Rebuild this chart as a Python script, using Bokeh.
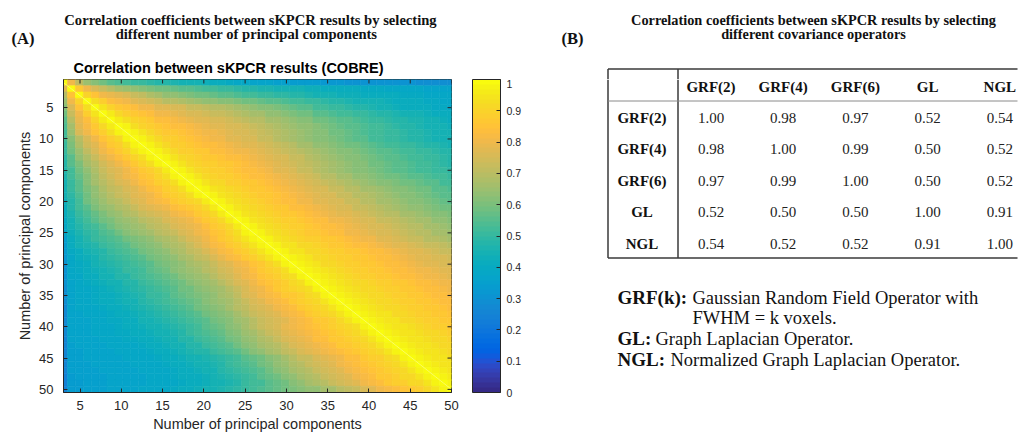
from bokeh.plotting import figure
from bokeh.layouts import row, column
from bokeh.models import (ColumnDataSource, LinearColorMapper, ColorBar, FixedTicker, Range1d)
from bokeh.core.properties import value
from bokeh.embed import file_html
from bokeh.resources import INLINE

# ---------------- DATA ----------------
# Panel A: correlation matrix (x100), row by row.
# PC_LOWER[i]: columns left of the diagonal, PC_UPPER[i]: columns right of the diagonal.
PC_LOWER = [
    "",
    "78",
    "70 85",
    "65 80 90",
    "61 76 85 93",
    "58 72 81 88 95",
    "56 69 79 84 90 96",
    "54 67 77 82 87 92 96",
    "53 65 75 80 85 89 93 97",
    "52 62 70 76 80 85 88 92 97",
    "51 60 68 74 78 82 86 89 93 97",
    "50 58 65 71 76 80 84 87 90 94 97",
    "49 56 63 68 73 77 80 84 87 90 93 97",
    "48 55 60 66 70 74 78 81 84 87 90 93 97",
    "47 53 58 64 68 72 75 78 81 84 86 89 92 96",
    "46 52 57 62 67 71 74 77 80 82 85 87 90 93 97",
    "45 51 56 61 66 69 72 75 78 80 83 85 88 90 93 97",
    "44 50 55 60 64 68 71 73 76 78 81 83 85 88 90 93 97",
    "44 49 54 59 63 66 69 72 74 77 79 81 83 86 88 90 93 97",
    "43 48 53 58 62 65 68 70 73 76 78 80 82 84 86 88 90 92 96",
    "42 47 52 56 60 63 65 68 70 73 75 77 79 81 83 85 87 89 92 96",
    "41 46 50 54 57 60 63 65 68 70 72 74 76 78 80 82 84 86 89 92 96",
    "40 45 49 52 55 58 60 63 65 67 69 71 73 75 77 79 81 83 86 88 91 96",
    "39 44 47 50 53 56 58 61 63 65 67 69 71 73 75 77 79 81 84 86 88 91 96",
    "38 43 46 49 51 54 56 59 61 63 65 67 69 71 73 75 77 80 82 85 87 90 93 97",
    "35 42 45 47 50 52 54 56 58 60 62 64 66 68 70 72 75 78 81 84 86 88 91 94 97",
    "34 41 44 46 48 50 52 54 56 58 60 62 64 66 68 70 73 76 79 82 84 86 88 91 94 97",
    "33 40 42 44 46 48 50 52 54 56 58 60 62 64 66 68 71 73 76 79 82 84 86 88 91 94 97",
    "32 39 41 43 45 47 49 51 52 54 56 58 60 62 64 66 68 71 73 76 79 82 84 86 88 91 94 97",
    "31 38 40 42 44 46 47 49 51 52 54 56 58 60 62 64 66 68 70 72 75 77 80 82 85 87 90 93 97",
    "31 38 40 41 43 45 46 48 50 51 53 55 57 59 61 63 65 67 69 71 74 76 79 81 84 86 88 90 93 97",
    "30 38 39 41 42 44 45 47 48 50 52 54 55 57 59 61 63 65 67 69 72 74 77 80 82 85 87 89 91 93 97",
    "30 37 39 40 41 43 44 45 47 48 50 52 54 55 57 59 61 63 65 67 69 72 75 78 81 83 85 87 89 91 93 97",
    "29 37 38 39 40 42 43 44 46 47 49 51 52 54 56 58 59 61 63 65 67 70 73 76 79 81 84 86 88 90 91 93 97",
    "29 37 38 39 40 41 42 43 45 46 48 50 51 53 55 57 58 60 62 64 66 68 71 75 78 80 82 84 86 87 89 91 93 97",
    "29 37 38 39 40 41 42 43 44 45 47 49 50 52 54 56 57 59 61 63 65 67 70 73 76 78 80 82 84 86 88 90 92 94 97",
    "28 37 38 38 39 40 41 42 43 44 46 47 49 51 52 54 56 58 60 62 64 66 69 71 74 76 78 80 82 84 86 88 90 92 94 97",
    "28 36 37 38 39 39 40 41 42 43 45 46 47 49 51 52 54 56 58 60 62 64 67 69 72 74 76 78 80 82 84 86 88 90 91 94 97",
    "28 36 37 37 38 39 40 40 41 42 44 45 46 47 49 50 52 54 56 58 60 62 65 67 70 72 74 76 78 80 82 84 86 87 89 91 94 97",
    "27 36 37 37 38 39 39 40 41 42 43 44 45 46 47 49 51 53 55 57 59 62 64 67 70 72 74 76 79 81 82 84 85 87 88 90 91 93 97",
    "27 36 36 37 38 38 39 40 40 41 42 43 44 45 46 48 50 52 54 55 57 60 62 65 67 70 72 74 77 79 81 82 84 85 87 88 90 91 94 97",
    "26 36 36 37 37 38 38 39 40 40 41 42 43 44 45 47 48 50 52 54 56 58 60 63 65 68 70 72 75 77 79 81 83 84 86 87 89 90 91 94 97",
    "26 35 36 36 37 37 38 38 39 39 40 41 42 43 44 45 47 48 50 52 54 56 58 61 63 66 68 70 73 75 77 79 81 82 84 86 87 89 90 92 94 97",
    "26 35 35 36 36 37 37 38 38 39 39 40 41 42 43 44 46 47 48 50 52 54 56 59 61 64 66 68 71 73 75 77 79 80 82 84 85 87 88 90 92 94 97",
    "25 35 35 36 36 36 37 37 38 38 39 39 40 41 42 43 44 45 46 47 49 51 53 55 57 59 62 64 67 70 72 73 75 77 79 81 83 84 86 88 89 91 93 97",
    "25 35 35 35 36 36 36 37 37 38 38 39 39 40 41 42 43 44 45 46 48 50 52 54 56 58 60 63 65 68 70 72 74 76 78 80 82 83 85 87 88 90 92 94 97",
    "25 35 35 35 35 36 36 36 37 37 38 38 39 39 40 41 42 43 44 45 47 49 50 52 54 56 58 61 63 66 68 70 72 74 76 78 80 82 84 85 87 89 90 92 94 97",
    "24 34 35 35 35 35 36 36 36 37 37 38 38 39 40 41 41 42 43 44 46 47 49 51 53 55 57 59 61 64 66 68 70 72 74 76 78 80 82 84 86 87 89 91 92 94 97",
    "24 34 34 35 35 35 36 36 36 37 37 38 38 39 39 40 41 42 43 44 45 46 48 50 52 53 55 57 59 62 64 66 68 70 72 74 76 78 80 82 84 86 88 89 91 92 94 97",
    "24 34 34 35 35 35 36 36 37 37 38 38 39 39 40 41 42 43 44 45 46 48 49 51 52 54 55 57 59 60 62 63 64 66 67 69 71 73 76 78 80 82 84 85 87 89 91 94 97",
]
PC_UPPER = [
    "80 71 65 61 58 56 54 52 51 50 49 48 47 46 45 45 44 43 42 41 40 39 38 37 36 36 35 35 34 34 33 33 32 32 32 31 31 31 31 30 30 30 30 30 29 29 29 29 29",
    "86 80 76 72 69 67 65 63 62 60 59 58 57 56 55 54 53 52 51 50 49 48 47 46 46 45 45 44 44 43 43 42 42 41 41 41 40 40 40 39 39 38 38 38 37 37 36 36",
    "90 85 81 79 77 75 73 71 68 66 64 63 61 60 59 58 57 56 55 54 53 52 51 50 49 49 48 47 46 45 45 44 43 43 43 42 42 42 41 41 40 40 40 39 39 38 38",
    "93 88 84 82 80 78 76 74 72 70 69 68 66 65 64 63 62 61 60 59 58 57 56 55 54 53 52 51 50 49 48 47 46 45 45 44 44 43 42 42 41 41 40 40 39 39",
    "95 90 87 85 83 81 80 78 77 76 75 73 72 71 70 69 68 66 65 64 62 61 60 58 57 56 55 53 52 51 50 49 48 47 46 45 44 43 42 42 41 41 40 40 39",
    "96 92 89 87 85 83 81 80 79 78 76 75 74 73 72 71 70 68 67 66 64 63 62 60 59 58 56 55 54 53 52 51 50 49 48 47 46 45 44 44 43 42 42 41",
    "96 93 90 88 86 84 83 82 80 79 78 77 76 75 74 73 71 70 69 67 66 65 63 62 61 59 58 57 56 55 54 53 51 50 49 48 47 46 46 45 44 43 42",
    "97 93 90 88 87 85 84 83 82 80 79 78 77 76 75 74 72 71 70 68 67 65 64 63 61 60 59 57 56 55 54 53 52 51 49 48 47 46 45 44 44 43",
    "97 94 91 89 87 86 85 84 82 81 80 79 77 76 75 74 72 71 69 68 66 65 63 62 61 59 58 57 56 54 53 52 51 50 49 48 47 46 45 44 44",
    "97 94 91 89 88 86 85 84 82 81 80 78 77 76 75 73 72 70 68 67 65 63 62 61 60 58 57 56 55 53 52 51 50 49 48 47 46 45 45 44",
    "97 94 91 89 88 87 85 84 83 82 80 79 78 77 75 74 72 71 69 67 66 64 63 62 60 59 58 57 55 54 53 52 51 50 49 48 47 46 45",
    "97 94 91 89 88 87 86 84 83 82 81 80 79 77 76 74 73 71 70 68 66 65 64 62 61 60 58 57 56 55 54 53 52 51 50 49 48 47",
    "97 94 92 90 88 87 86 85 84 83 82 80 79 78 76 75 73 72 70 68 67 65 64 62 61 60 58 57 56 55 54 53 52 51 50 49 48",
    "97 94 92 90 89 88 87 86 85 83 82 81 79 77 76 74 73 71 69 68 66 65 63 62 61 59 58 57 56 55 54 53 52 51 49 48",
    "97 94 92 90 89 88 87 85 84 83 82 80 78 77 75 73 72 70 68 67 65 64 62 61 60 59 57 56 55 54 53 52 51 50 49",
    "97 94 92 90 89 88 87 85 84 83 82 80 79 77 75 74 72 70 69 67 66 64 63 62 60 59 58 57 56 55 54 53 52 50",
    "97 95 92 91 89 88 87 86 85 83 82 80 79 77 76 74 72 71 69 68 66 65 64 62 61 60 59 58 57 56 55 53 52",
    "97 95 93 91 90 88 87 86 85 84 82 81 79 78 76 75 73 72 70 69 67 66 65 63 62 61 60 59 58 56 55 54",
    "97 95 93 91 90 89 87 86 85 83 82 80 79 77 76 75 73 72 70 69 68 66 65 64 62 61 60 59 57 56 55",
    "97 95 93 91 90 88 87 85 84 83 81 80 78 77 76 75 73 72 70 69 67 66 65 63 62 61 60 58 57 56",
    "97 95 93 91 90 89 87 86 84 83 82 80 79 77 76 75 73 72 71 69 68 66 65 64 63 61 60 59 58",
    "97 95 93 91 90 89 87 86 85 83 82 81 79 78 77 75 74 73 71 70 69 67 66 65 64 62 61 60",
    "97 95 93 91 90 89 88 86 85 84 83 81 80 79 77 76 75 73 72 71 69 68 67 66 64 63 62",
    "97 95 93 92 90 89 88 87 85 84 83 82 80 79 78 76 75 74 72 71 70 69 67 66 65 64",
    "97 95 93 91 90 88 87 86 85 84 83 81 80 79 78 76 75 74 72 71 70 69 67 66 65",
    "97 95 93 92 90 89 88 87 86 85 83 82 81 80 78 77 76 74 73 72 70 69 68 67",
    "97 95 94 92 91 90 88 87 86 85 84 83 82 81 79 78 77 76 74 73 72 71 69",
    "97 95 94 92 91 90 89 88 87 86 85 84 83 82 80 79 78 77 76 74 73 72",
    "97 96 94 92 91 90 89 88 87 86 85 84 83 82 81 79 78 77 76 75 74",
    "97 96 94 92 91 90 89 88 87 86 85 84 83 82 80 79 78 77 76 75",
    "97 96 94 93 91 90 89 88 87 86 85 84 83 82 81 80 79 78 77",
    "97 96 94 93 91 90 89 88 87 86 85 84 83 82 81 80 79 78",
    "97 96 94 93 92 91 90 89 88 87 86 85 84 83 82 81 80",
    "97 96 95 93 92 91 90 89 88 87 86 85 84 83 82 81",
    "97 96 95 93 92 91 90 89 88 87 86 85 84 83 82",
    "97 96 95 93 92 91 90 89 88 87 86 85 84 83",
    "97 96 95 93 92 91 90 89 88 87 86 85 84",
    "97 96 95 94 92 91 90 89 88 87 86 85",
    "97 96 95 94 92 91 90 89 88 87 86",
    "97 96 95 94 93 92 90 89 88 87",
    "97 96 95 94 93 92 91 90 89",
    "97 96 95 94 93 92 91 90",
    "97 96 95 94 93 92 91",
    "97 96 95 94 93 92",
    "97 96 95 94 93",
    "97 96 95 94",
    "97 96 95",
    "97 96",
    "97",
    "",
]
PC_TICKS = [5, 10, 15, 20, 25, 30, 35, 40, 45, 50]
CB_TICKS = [0, 0.1, 0.2, 0.3, 0.4, 0.5, 0.6, 0.7, 0.8, 0.9, 1]

# Panel B: table
OPERATORS = ["GRF(2)", "GRF(4)", "GRF(6)", "GL", "NGL"]
TABLE_VALUES = [
    [1.00, 0.98, 0.97, 0.52, 0.54],
    [0.98, 1.00, 0.99, 0.50, 0.52],
    [0.97, 0.99, 1.00, 0.50, 0.52],
    [0.52, 0.50, 0.50, 1.00, 0.91],
    [0.54, 0.52, 0.52, 0.91, 1.00],
]
LEGEND_TERMS = ["GRF(k):", "GL:", "NGL:"]
LEGEND_DEFS = ["Gaussian Random Field Operator with", "Graph Laplacian Operator.",
               "Normalized Graph Laplacian Operator."]
LEGEND_CONT = "FWHM = k voxels."

TITLE_A = ["Correlation coefficients between sKPCR results by selecting",
           "different number of principal components"]
TITLE_B = ["Correlation coefficients between sKPCR results by selecting",
           "different covariance operators"]
HEATMAP_TITLE = "Correlation between sKPCR results (COBRE)"
AXIS_LABEL = "Number of principal components"

# ---------------- STYLE ----------------
PARULA = [
    (0.2081, 0.1663, 0.5292), (0.2116, 0.1898, 0.5777), (0.2123, 0.2138, 0.6270), (0.2081, 0.2386, 0.6771),
    (0.1959, 0.2645, 0.7279), (0.1707, 0.2919, 0.7792), (0.1253, 0.3242, 0.8303), (0.0591, 0.3598, 0.8683),
    (0.0117, 0.3875, 0.8820), (0.0060, 0.4086, 0.8828), (0.0165, 0.4266, 0.8786), (0.0329, 0.4430, 0.8720),
    (0.0498, 0.4586, 0.8641), (0.0629, 0.4737, 0.8554), (0.0723, 0.4887, 0.8467), (0.0779, 0.5040, 0.8384),
    (0.0793, 0.5200, 0.8312), (0.0749, 0.5375, 0.8263), (0.0641, 0.5570, 0.8240), (0.0488, 0.5772, 0.8228),
    (0.0343, 0.5966, 0.8199), (0.0265, 0.6137, 0.8135), (0.0239, 0.6287, 0.8038), (0.0231, 0.6418, 0.7913),
    (0.0228, 0.6535, 0.7768), (0.0267, 0.6642, 0.7607), (0.0384, 0.6743, 0.7436), (0.0590, 0.6838, 0.7254),
    (0.0843, 0.6928, 0.7062), (0.1133, 0.7015, 0.6859), (0.1453, 0.7098, 0.6646), (0.1801, 0.7177, 0.6424),
    (0.2178, 0.7250, 0.6193), (0.2586, 0.7317, 0.5954), (0.3022, 0.7376, 0.5712), (0.3482, 0.7424, 0.5473),
    (0.3953, 0.7459, 0.5244), (0.4420, 0.7481, 0.5033), (0.4871, 0.7491, 0.4840), (0.5300, 0.7491, 0.4661),
    (0.5709, 0.7485, 0.4494), (0.6099, 0.7473, 0.4337), (0.6473, 0.7456, 0.4188), (0.6834, 0.7435, 0.4044),
    (0.7184, 0.7411, 0.3905), (0.7525, 0.7384, 0.3768), (0.7858, 0.7356, 0.3633), (0.8185, 0.7327, 0.3498),
    (0.8507, 0.7299, 0.3360), (0.8824, 0.7274, 0.3217), (0.9139, 0.7258, 0.3063), (0.9450, 0.7261, 0.2886),
    (0.9739, 0.7314, 0.2666), (0.9938, 0.7455, 0.2403), (0.9990, 0.7653, 0.2164), (0.9955, 0.7861, 0.1967),
    (0.9880, 0.8066, 0.1794), (0.9789, 0.8271, 0.1633), (0.9697, 0.8481, 0.1475), (0.9626, 0.8705, 0.1309),
    (0.9589, 0.8949, 0.1132), (0.9598, 0.9218, 0.0948), (0.9661, 0.9514, 0.0755), (0.9763, 0.9831, 0.0538),
]
PAL = ["#%02x%02x%02x" % tuple(int(round(c * 255)) for c in rgb) for rgb in PARULA]
AX = "#262626"
TXT = "#111111"
SANS = "Liberation Sans"
SERIF = "Liberation Serif"

# page geometry (pixels)
PAGE_W, PAGE_H = 1025, 436
HEAD_H = 79                       # header strip height == top of heatmap frame
FRAME_L, FRAME_W, FRAME_H = 63, 388, 313
A_W, C_W = 460, 80
ROW_H = PAGE_H - HEAD_H
BOT = ROW_H - FRAME_H

# ---------------- MATRIX ----------------
N = len(PC_LOWER)
corr = []
for i in range(N):
    lo = [int(v) for v in PC_LOWER[i].split()]
    up = [int(v) for v in PC_UPPER[i].split()]
    assert len(lo) == i and len(up) == N - 1 - i, (i + 1, len(lo), len(up))
    corr.append([v / 100 for v in lo] + [1.0] + [v / 100 for v in up])

X_FIRST, X_LAST = 3, 50          # imagesc x-extent of the columns
col_x = [X_FIRST + j * (X_LAST - X_FIRST) / (N - 1) for j in range(N)]
cell_w = (X_LAST - X_FIRST) / (N - 1)
xs, ys, vs = [], [], []
for i in range(N):
    for j in range(N):
        xs.append(col_x[j]); ys.append(i + 1); vs.append(corr[i][j])
src = ColumnDataSource(dict(x=xs, y=ys, v=vs))

mapper = LinearColorMapper(palette=PAL, low=0, high=1)

# ---------------- HEADER (titles) ----------------
hd = figure(width=PAGE_W, height=HEAD_H, x_range=Range1d(0, PAGE_W), y_range=Range1d(HEAD_H, 0),
            output_backend="svg", toolbar_location=None, tools="", min_border=0,
            x_axis_location=None, y_axis_location=None, outline_line_color=None)
hd.grid.visible = False
hd.text(x=[250, 246], y=[19.5, 33.5], text=TITLE_A, text_align="center", text_baseline="middle",
        text_font=value(SERIF), text_font_style="bold", text_font_size="14.6px", text_color=TXT)
hd.text(x=[813, 813], y=[19.5, 33.5], text=TITLE_B, text_align="center", text_baseline="middle",
        text_font=value(SERIF), text_font_style="bold", text_font_size="14.3px", text_color=TXT)
hd.text(x=[11, 561], y=[38, 38], text=["(A)", "(B)"], text_align="left", text_baseline="middle",
        text_font=value(SERIF), text_font_style="bold", text_font_size="16.5px", text_color=TXT)
hd.text(x=[228], y=[67.5], text=[HEATMAP_TITLE], text_align="center", text_baseline="middle",
        text_font=value(SANS), text_font_style="bold", text_font_size="14.5px", text_color="black")

# table geometry (page coordinates)
T_LEFT, T_RIGHT, T_TOP, T_HEAD, T_BOTTOM, T_DIV = 607.5, 1017, 68.5, 100.5, 257.5, 677.5
hd.segment(x0=[T_LEFT, T_LEFT, T_DIV], y0=[T_TOP, T_TOP, T_TOP],
           x1=[T_RIGHT, T_LEFT, T_DIV], y1=[T_TOP, HEAD_H, HEAD_H],
           line_color="#3a3a3a", line_width=1.5)

# ---------------- PANEL A ----------------
pA = figure(width=A_W, height=ROW_H, x_range=Range1d(3, 50), y_range=Range1d(50.5, 0.5),
            output_backend="svg", toolbar_location=None, tools="",
            min_border_left=FRAME_L, min_border_right=A_W - FRAME_L - FRAME_W, min_border_top=0,
            min_border_bottom=BOT)
pA.rect(x="x", y="y", width=cell_w, height=1, source=src,
        fill_color={"field": "v", "transform": mapper},
        line_color={"field": "v", "transform": mapper}, line_width=0.6)
pA.line(x=col_x, y=list(range(1, N + 1)), line_color="white", line_alpha=0.45, line_width=0.8)
pA.grid.visible = False
pA.outline_line_color = AX
pA.outline_line_width = 1

for ax in (pA.xaxis[0], pA.yaxis[0]):
    ax.ticker = FixedTicker(ticks=PC_TICKS)
    ax.axis_label = AXIS_LABEL
    ax.axis_label_text_font = SANS
    ax.axis_label_text_font_style = "normal"
    ax.axis_label_text_font_size = "14.5px"
    ax.axis_label_text_color = AX
    ax.major_label_text_font = SANS
    ax.major_label_text_font_size = "13px"
    ax.major_label_text_color = AX
    ax.major_tick_in = 4
    ax.major_tick_out = 0
    ax.minor_tick_line_color = None
    ax.axis_line_color = AX
    ax.major_tick_line_color = AX
pA.xaxis.major_label_standoff = 8
pA.xaxis.axis_label_standoff = 3
pA.yaxis.major_label_standoff = 10
pA.yaxis.axis_label_standoff = 3

# box ticks on the top and right sides (pointing inward)
tx = 4 * 47 / FRAME_W
ty = 4 * 50 / FRAME_H
pA.segment(x0=PC_TICKS, y0=[0.5] * len(PC_TICKS), x1=PC_TICKS, y1=[0.5 + ty] * len(PC_TICKS),
           line_color=AX, line_width=1)
pA.segment(x0=[50] * len(PC_TICKS), y0=PC_TICKS, x1=[50 - tx] * len(PC_TICKS), y1=PC_TICKS,
           line_color=AX, line_width=1)

# ---------------- COLORBAR ----------------
pC = figure(width=C_W, height=ROW_H, x_range=Range1d(0, 1), y_range=Range1d(0, 1),
            output_backend="svg", toolbar_location=None, tools="",
            min_border_left=0, min_border_right=0, min_border_top=0, min_border_bottom=BOT,
            x_axis_location=None, y_axis_location=None, outline_line_color=None)
pC.grid.visible = False
cb = ColorBar(color_mapper=mapper, location=(472 - A_W, 0), width=28, height=FRAME_H, padding=0,
              ticker=FixedTicker(ticks=CB_TICKS),
              major_label_overrides={t: ("%g" % t) for t in CB_TICKS},
              label_standoff=6, major_tick_in=4, major_tick_out=0, major_tick_line_color=AX,
              minor_tick_line_color=None, bar_line_color=AX, bar_line_width=1,
              major_label_text_font=SANS, major_label_text_font_size="10.5px",
              major_label_text_color=AX, background_fill_color=None, border_line_color=None)
pC.add_layout(cb, "center")

# ---------------- PANEL B ----------------
BX0 = A_W + C_W
pB = figure(width=PAGE_W - BX0, height=ROW_H, x_range=Range1d(BX0, PAGE_W),
            y_range=Range1d(HEAD_H + FRAME_H, HEAD_H),
            output_backend="svg", toolbar_location=None, tools="",
            min_border_left=0, min_border_right=0, min_border_top=0, min_border_bottom=BOT,
            x_axis_location=None, y_axis_location=None, outline_line_color=None)
pB.grid.visible = False

LBL_X = 641.5
COL0_X, COL_DX = 710.5, 72.2
HEAD_Y, ROW0_Y, ROW_DY = 86.7, 117.3, 31.5

pB.segment(x0=[T_LEFT, T_LEFT, T_DIV], y0=[T_BOTTOM, HEAD_H, HEAD_H],
           x1=[T_RIGHT, T_LEFT, T_DIV], y1=[T_BOTTOM, T_BOTTOM, T_BOTTOM],
           line_color="#3a3a3a", line_width=1.5)
pB.segment(x0=[T_LEFT], y0=[T_HEAD], x1=[T_RIGHT], y1=[T_HEAD], line_color="#8a8a8a", line_width=1)

col_centers = [COL0_X + k * COL_DX for k in range(len(OPERATORS))]
row_centers = [ROW0_Y + k * ROW_DY for k in range(len(OPERATORS))]
pB.text(x=col_centers, y=[HEAD_Y] * len(OPERATORS), text=OPERATORS, text_align="center",
        text_baseline="middle", text_font=value(SERIF), text_font_style="bold",
        text_font_size="15px", text_color=TXT)
pB.text(x=[LBL_X] * len(OPERATORS), y=row_centers, text=OPERATORS, text_align="center",
        text_baseline="middle", text_font=value(SERIF), text_font_style="bold",
        text_font_size="15px", text_color=TXT)
vx, vy, vt = [], [], []
for r, rowvals in enumerate(TABLE_VALUES):
    for c, v in enumerate(rowvals):
        vx.append(col_centers[c]); vy.append(row_centers[r]); vt.append("%.2f" % v)
pB.text(x=vx, y=vy, text=vt, text_align="center", text_baseline="middle",
        text_font=value(SERIF), text_font_size="15px", text_color="#222222")

LEG_X, DEF_X = [617, 617, 617], [692, 655, 670]
LEG_Y = [297, 338, 359]
pB.text(x=LEG_X, y=LEG_Y, text=LEGEND_TERMS, text_align="left", text_baseline="middle",
        text_font=value(SERIF), text_font_style="bold", text_font_size="19px", text_color=TXT)
pB.text(x=DEF_X, y=LEG_Y, text=LEGEND_DEFS, text_align="left", text_baseline="middle",
        text_font=value(SERIF), text_font_size="18.5px", text_color=TXT)
pB.text(x=[692], y=[317], text=[LEGEND_CONT], text_align="left", text_baseline="middle",
        text_font=value(SERIF), text_font_size="18.5px", text_color=TXT)

layout = column(hd, row(pA, pC, pB))
open("out.html", "w").write(file_html(layout, INLINE))
